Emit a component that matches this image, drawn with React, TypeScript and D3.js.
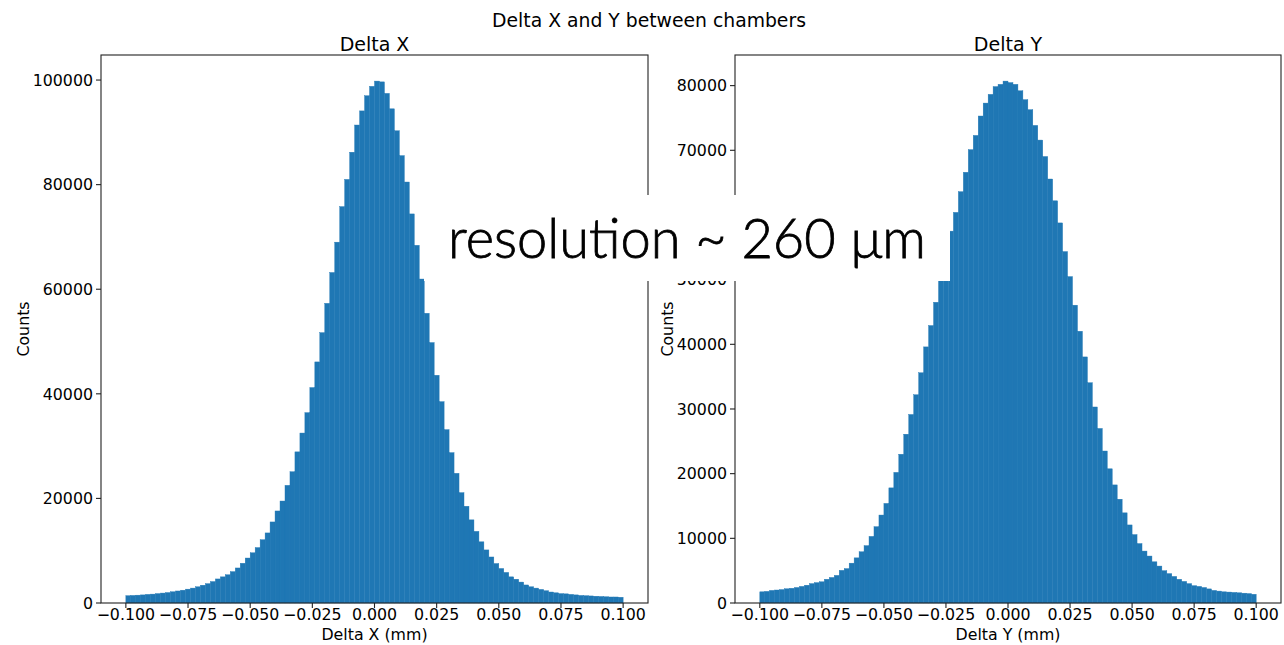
import * as d3 from "d3"

// histogram bins: 100 bins from -0.1 to 0.1 mm
const binEdges = d3.range(101).map((i) => +(-0.1 + i * 0.002).toFixed(3))

// counts, Delta X
const deltaXCounts = [
  1400, 1450, 1500, 1550, 1650, 1700, 1800, 1900, 2000, 2150, 2300, 2450, 2650, 2850, 3100, 3400, 3700,
  4100, 4600, 5000, 5400, 6000, 6700, 7600, 8600, 9600, 10600, 12100, 13400, 15500, 17600, 19500, 22500,
  25100, 28900, 32500, 36400, 41200, 46100, 51700, 57300, 63200, 69000, 75800, 81000, 86200, 91400, 94100,
  97000, 98800, 99800, 99650, 97450, 94500, 90300, 85550, 80500, 74400, 68400, 61950, 55400, 49800, 43550,
  38500, 33150, 28750, 24800, 21100, 18500, 15900, 13700, 11700, 10150, 8800, 7550, 6600, 5850, 5000, 4550,
  4000, 3450, 3100, 2850, 2600, 2350, 2100, 1950, 1800, 1750, 1650, 1550, 1450, 1400, 1350, 1300, 1250,
  1200, 1150, 1150, 1100,
]

// counts, Delta Y
const deltaYCounts = [
  1730, 1800, 1950, 2010, 2080, 2200, 2280, 2400, 2570, 2750, 3000, 3150, 3280, 3670, 3950, 4270, 5050,
  5320, 6160, 6980, 7920, 8870, 10300, 11800, 13600, 15400, 17800, 20200, 23000, 26100, 29150, 32200,
  35600, 39600, 42900, 46500, 50500, 54000, 57500, 60400, 63600, 66600, 70100, 72300, 75300, 77300, 78650,
  79850, 80200, 80700, 80470, 80200, 79200, 77830, 76280, 73850, 71580, 69040, 65560, 62190, 58770, 54340,
  50470, 46050, 42020, 38050, 34060, 30310, 26990, 23500, 20750, 18260, 16050, 13940, 12070, 10580, 9190,
  8030, 7260, 6370, 5710, 5000, 4550, 4110, 3670, 3340, 3000, 2680, 2570, 2400, 2180, 1950, 1840, 1730,
  1690, 1640, 1580, 1520, 1460, 1350,
]

const xTicks = [-0.1, -0.075, -0.05, -0.025, 0, 0.025, 0.05, 0.075, 0.1]
const deltaXYTicks = [0, 20000, 40000, 60000, 80000, 100000]
const deltaYYTicks = [0, 10000, 20000, 30000, 40000, 50000, 60000, 70000, 80000]

const W = 1284
const H = 645
const TOP = 55
const BOTTOM = 603
const FONT = "DejaVu Sans, sans-serif"
const BLUE = "#1f77b4"

const panels = [
  { title: "Delta X", xLabel: "Delta X (mm)", counts: deltaXCounts, yTicks: deltaXYTicks, left: 101, right: 648, yLabelX: 29 },
  { title: "Delta Y", xLabel: "Delta Y (mm)", counts: deltaYCounts, yTicks: deltaYYTicks, left: 735, right: 1281, yLabelX: 673 },
]

const fmt = d3.format(".3f")

function Panel({ p }: { p: (typeof panels)[number] }) {
  const x = d3.scaleLinear().domain([-0.11, 0.11]).range([p.left, p.right])
  const y = d3
    .scaleLinear()
    .domain([0, (d3.max(p.counts) || 1) * 1.05])
    .range([BOTTOM, TOP])
  const cx = (p.left + p.right) / 2

  return (
    <g>
      {/* bars */}
      {p.counts.map((c, i) => (
        <rect
          key={i}
          x={x(binEdges[i])}
          width={x(binEdges[i + 1]) - x(binEdges[i])}
          y={y(c)}
          height={BOTTOM - y(c)}
          fill={BLUE}
          stroke={BLUE}
          strokeWidth={0.4}
        />
      ))}

      {/* spines */}
      <rect x={p.left} y={TOP} width={p.right - p.left} height={BOTTOM - TOP} fill="none" stroke="#222" strokeWidth={1.1} />

      {/* x axis */}
      {xTicks.map((t) => (
        <g key={t}>
          <line x1={x(t)} x2={x(t)} y1={BOTTOM} y2={BOTTOM + 5} stroke="#222" strokeWidth={1.1} />
          <text x={x(t)} y={620} textAnchor="middle" fontSize={15.8} fontFamily={FONT}>
            {fmt(t)}
          </text>
        </g>
      ))}
      <text x={cx} y={640} textAnchor="middle" fontSize={15.8} fontFamily={FONT}>
        {p.xLabel}
      </text>

      {/* y axis */}
      {p.yTicks.map((t) => (
        <g key={t}>
          <line x1={p.left - 5} x2={p.left} y1={y(t)} y2={y(t)} stroke="#222" strokeWidth={1.1} />
          <text x={p.left - 8} y={y(t)} dy="0.36em" textAnchor="end" fontSize={15.8} fontFamily={FONT}>
            {t}
          </text>
        </g>
      ))}
      <text
        transform={`translate(${p.yLabelX},${(TOP + BOTTOM) / 2}) rotate(-90)`}
        textAnchor="middle"
        fontSize={15.8}
        fontFamily={FONT}
      >
        Counts
      </text>

      {/* title */}
      <text x={cx} y={51} textAnchor="middle" fontSize={19} fontFamily={FONT}>
        {p.title}
      </text>
    </g>
  )
}

export default function App() {
  return (
    <svg width={W} height={H} style={{ position: "absolute", left: 0, top: 0, background: "#fff" }}>
      <rect width={W} height={H} fill="#fff" />
      <text x={649} y={27} textAnchor="middle" fontSize={18.8} fontFamily={FONT}>
        Delta X and Y between chambers
      </text>
      {panels.map((p) => (
        <Panel key={p.title} p={p} />
      ))}

      {/* annotation pasted over the figure */}
      <rect x={424} y={195} width={526} height={86} fill="#fff" />
      <text
        x={687}
        y={258}
        textAnchor="middle"
        fontSize={56}
        fontWeight={300}
        fontFamily="Lato, sans-serif"
        fill="#000"
        stroke="#000"
        strokeWidth={0.8}
        textLength={478}
        lengthAdjust="spacingAndGlyphs"
      >
        resolution ~ 260 μm
      </text>
    </svg>
  )
}
